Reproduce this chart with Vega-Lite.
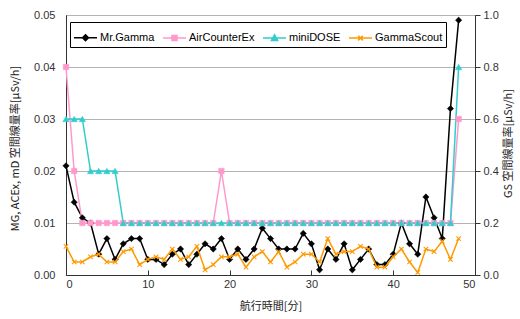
{
  "$schema": "https://vega.github.io/schema/vega-lite/v6.json",
  "width": 409,
  "height": 260,
  "autosize": {"type": "none"},
  "padding": {"left": 66, "top": 15, "right": 45, "bottom": 44},
  "background": "white",
  "config": {
    "view": {"stroke": "#333333", "strokeWidth": 1},
    "font": "Liberation Sans",
    "axis": {
      "labelFont": "Liberation Sans",
      "labelFontSize": 11,
      "labelColor": "#333333",
      "titleFont": "Noto Sans CJK JP",
      "titleFontSize": 11,
      "titleFontWeight": "normal",
      "titleColor": "#222222",
      "domainColor": "#333333",
      "tickColor": "#333333"
    },
    "legend": {
      "title": null,
      "orient": "none",
      "legendX": 4,
      "legendY": 7,
      "direction": "horizontal",
      "columns": 4,
      "strokeColor": "#000000",
      "fillColor": "#ffffff",
      "padding": 3,
      "symbolSize": 529,
      "symbolStrokeWidth": 1.5,
      "symbolOpacity": 1,
      "labelFont": "Liberation Sans",
      "labelFontSize": 11,
      "labelColor": "#000000",
      "labelOffset": 2,
      "columnPadding": 5
    }
  },
  "data": {
    "values": [
      {"t": 0, "MG": 0.021, "ACE": 0.04, "MD": 0.03, "GS": 0.11},
      {"t": 1, "MG": 0.014, "ACE": 0.02, "MD": 0.03, "GS": 0.05},
      {"t": 2, "MG": 0.011, "ACE": 0.01, "MD": 0.03, "GS": 0.05},
      {"t": 3, "MG": 0.010, "ACE": 0.01, "MD": 0.02, "GS": 0.07},
      {"t": 4, "MG": 0.004, "ACE": 0.01, "MD": 0.02, "GS": 0.08},
      {"t": 5, "MG": 0.007, "ACE": 0.01, "MD": 0.02, "GS": 0.05},
      {"t": 6, "MG": 0.003, "ACE": 0.01, "MD": 0.02, "GS": 0.05},
      {"t": 7, "MG": 0.006, "ACE": 0.01, "MD": 0.01, "GS": 0.09},
      {"t": 8, "MG": 0.007, "ACE": 0.01, "MD": 0.01, "GS": 0.10},
      {"t": 9, "MG": 0.007, "ACE": 0.01, "MD": 0.01, "GS": 0.04},
      {"t": 10, "MG": 0.003, "ACE": 0.01, "MD": 0.01, "GS": 0.06},
      {"t": 11, "MG": 0.003, "ACE": 0.01, "MD": 0.01, "GS": 0.07},
      {"t": 12, "MG": 0.002, "ACE": 0.01, "MD": 0.01, "GS": 0.06},
      {"t": 13, "MG": 0.004, "ACE": 0.01, "MD": 0.01, "GS": 0.10},
      {"t": 14, "MG": 0.005, "ACE": 0.01, "MD": 0.01, "GS": 0.06},
      {"t": 15, "MG": 0.002, "ACE": 0.01, "MD": 0.01, "GS": 0.07},
      {"t": 16, "MG": 0.004, "ACE": 0.01, "MD": 0.01, "GS": 0.11},
      {"t": 17, "MG": 0.006, "ACE": 0.01, "MD": 0.01, "GS": 0.02},
      {"t": 18, "MG": 0.005, "ACE": 0.01, "MD": 0.01, "GS": 0.04},
      {"t": 19, "MG": 0.007, "ACE": 0.02, "MD": 0.01, "GS": 0.07},
      {"t": 20, "MG": 0.003, "ACE": 0.01, "MD": 0.01, "GS": 0.07},
      {"t": 21, "MG": 0.005, "ACE": 0.01, "MD": 0.01, "GS": 0.08},
      {"t": 22, "MG": 0.003, "ACE": 0.01, "MD": 0.01, "GS": 0.03},
      {"t": 23, "MG": 0.005, "ACE": 0.01, "MD": 0.01, "GS": 0.07},
      {"t": 24, "MG": 0.009, "ACE": 0.01, "MD": 0.01, "GS": 0.09},
      {"t": 25, "MG": 0.007, "ACE": 0.01, "MD": 0.01, "GS": 0.05},
      {"t": 26, "MG": 0.005, "ACE": 0.01, "MD": 0.01, "GS": 0.09},
      {"t": 27, "MG": 0.005, "ACE": 0.01, "MD": 0.01, "GS": 0.03},
      {"t": 28, "MG": 0.005, "ACE": 0.01, "MD": 0.01, "GS": 0.05},
      {"t": 29, "MG": 0.008, "ACE": 0.01, "MD": 0.01, "GS": 0.08},
      {"t": 30, "MG": 0.006, "ACE": 0.01, "MD": 0.01, "GS": 0.08},
      {"t": 31, "MG": 0.001, "ACE": 0.01, "MD": 0.01, "GS": 0.05},
      {"t": 32, "MG": 0.005, "ACE": 0.01, "MD": 0.01, "GS": 0.14},
      {"t": 33, "MG": 0.003, "ACE": 0.01, "MD": 0.01, "GS": 0.08},
      {"t": 34, "MG": 0.006, "ACE": 0.01, "MD": 0.01, "GS": 0.09},
      {"t": 35, "MG": 0.001, "ACE": 0.01, "MD": 0.01, "GS": 0.09},
      {"t": 36, "MG": 0.003, "ACE": 0.01, "MD": 0.01, "GS": 0.11},
      {"t": 37, "MG": 0.005, "ACE": 0.01, "MD": 0.01, "GS": 0.10},
      {"t": 38, "MG": 0.002, "ACE": 0.01, "MD": 0.01, "GS": 0.03},
      {"t": 39, "MG": 0.002, "ACE": 0.01, "MD": 0.01, "GS": 0.03},
      {"t": 40, "MG": 0.004, "ACE": 0.01, "MD": 0.01, "GS": 0.07},
      {"t": 41, "MG": 0.010, "ACE": 0.01, "MD": 0.01, "GS": 0.10},
      {"t": 42, "MG": 0.006, "ACE": 0.01, "MD": 0.01, "GS": 0.05},
      {"t": 43, "MG": 0.004, "ACE": 0.01, "MD": 0.01, "GS": 0.01},
      {"t": 44, "MG": 0.015, "ACE": 0.01, "MD": 0.01, "GS": 0.10},
      {"t": 45, "MG": 0.011, "ACE": 0.01, "MD": 0.01, "GS": 0.09},
      {"t": 46, "MG": 0.007, "ACE": 0.01, "MD": 0.01, "GS": 0.13},
      {"t": 47, "MG": 0.032, "ACE": 0.01, "MD": 0.01, "GS": 0.06},
      {"t": 48, "MG": 0.049, "ACE": 0.03, "MD": 0.04, "GS": 0.14}
    ]
  },
  "transform": [{"fold": ["MG", "ACE", "MD", "GS"], "as": ["key", "v"]}],
  "encoding": {
    "x": {
      "field": "t",
      "type": "quantitative",
      "scale": {"domain": [0, 50], "nice": false},
      "axis": {
        "values": [0, 10, 20, 30, 40, 50],
        "grid": false,
        "tickSize": -5,
        "labelPadding": 8,
        "title": "航行時間[分]",
        "titlePadding": 11
      }
    },
    "stroke": {
      "field": "key",
      "type": "nominal",
      "scale": {
        "domain": ["MG", "ACE", "MD", "GS"],
        "range": ["#000000", "#ff99cc", "#33cccc", "#ff9900"]
      },
      "legend": {
        "title": null,
        "labelExpr": "{'MG': 'Mr.Gamma', 'ACE': 'AirCounterEx', 'MD': 'miniDOSE', 'GS': 'GammaScout'}[datum.label]"
      }
    }
  },
  "layer": [
    {
      "transform": [{"filter": "datum.key !== 'GS'"}],
      "encoding": {
        "y": {
          "field": "v",
          "type": "quantitative",
          "scale": {"domain": [0, 0.05], "nice": false},
          "axis": {
            "values": [0, 0.01, 0.02, 0.03, 0.04, 0.05],
            "format": ".2f",
            "grid": true,
            "gridColor": "#b4b4b4",
            "gridWidth": 1,
            "ticks": false,
            "labelPadding": 11,
            "title": "MG, ACEx, mD 空間線量率[μSv/h]",
            "titleAngle": 270,
            "titleX": -51,
            "titleY": 133,
            "titleAlign": "center",
            "titleBaseline": "middle"
          }
        }
      },
      "layer": [
        {"mark": {"type": "line", "strokeWidth": 1.5}},
        {
          "transform": [{"filter": "datum.key === 'MG'"}],
          "mark": {"type": "point", "shape": "diamond", "fill": "#000000", "filled": true, "size": 40, "strokeWidth": 0.5, "opacity": 1}
        },
        {
          "transform": [{"filter": "datum.key === 'ACE'"}],
          "mark": {"type": "point", "shape": "square", "fill": "#ff99cc", "filled": true, "size": 30, "strokeWidth": 0.5, "opacity": 1}
        },
        {
          "transform": [{"filter": "datum.key === 'MD'"}],
          "mark": {"type": "point", "shape": "triangle-up", "fill": "#33cccc", "filled": true, "size": 40, "strokeWidth": 0.5, "opacity": 1}
        }
      ]
    },
    {
      "transform": [{"filter": "datum.key === 'GS'"}],
      "encoding": {
        "y": {
          "field": "v",
          "type": "quantitative",
          "scale": {"domain": [0, 1], "nice": false},
          "axis": {
            "orient": "right",
            "values": [0, 0.2, 0.4, 0.6, 0.8, 1.0],
            "format": ".1f",
            "grid": false,
            "tickSize": 5,
            "labelPadding": 3,
            "title": "GS 空間線量率[μSv/h]",
            "titleAngle": 270,
            "titleX": 33,
            "titleY": 128,
            "titleAlign": "center",
            "titleBaseline": "middle"
          }
        }
      },
      "layer": [
        {"mark": {"type": "line", "strokeWidth": 1.5}},
        {
          "mark": {"type": "point", "shape": "M-1,-1L1,1M-1,1L1,-1", "filled": false, "size": 20, "strokeWidth": 1.1, "opacity": 1}
        }
      ]
    },
    {
      "transform": [{"filter": "datum.t < 0"}],
      "mark": {"type": "point", "opacity": 1, "strokeWidth": 1.5},
      "encoding": {
        "fill": {
          "field": "key",
          "type": "nominal",
          "scale": {
            "domain": ["MG", "ACE", "MD", "GS"],
            "range": ["#000000", "#ff99cc", "#33cccc", "#ff9900"]
          },
          "legend": {
            "title": null,
            "labelExpr": "{'MG': 'Mr.Gamma', 'ACE': 'AirCounterEx', 'MD': 'miniDOSE', 'GS': 'GammaScout'}[datum.label]"
          }
        },
        "shape": {
          "field": "key",
          "type": "nominal",
          "scale": {
            "domain": ["MG", "ACE", "MD", "GS"],
            "range": [
              "M-1,0H1M-0.26,0L0,-0.26L0.26,0L0,0.26Z",
              "M-1,0H1M-0.22,-0.22H0.22V0.22H-0.22Z",
              "M-1,0H1M-0.27,0.22L0,-0.27L0.27,0.22Z",
              "M-1,0H1M-0.2,-0.2L0.2,0.2M-0.2,0.2L0.2,-0.2"
            ]
          },
          "legend": {
            "title": null,
            "labelExpr": "{'MG': 'Mr.Gamma', 'ACE': 'AirCounterEx', 'MD': 'miniDOSE', 'GS': 'GammaScout'}[datum.label]"
          }
        }
      }
    }
  ],
  "resolve": {"scale": {"y": "independent"}}
}
